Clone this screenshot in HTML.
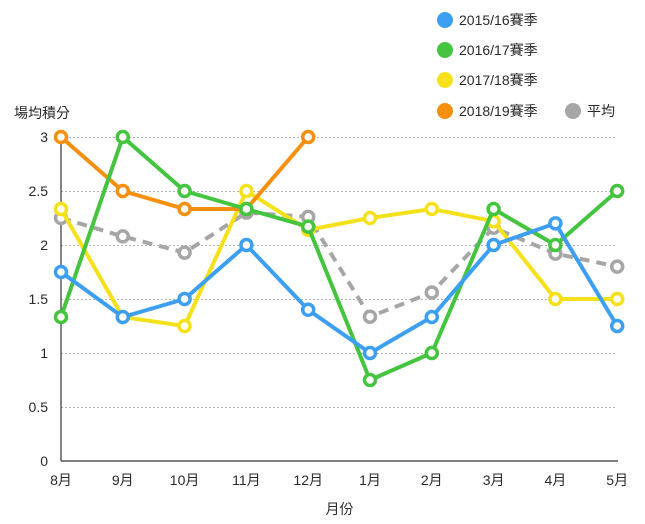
<!DOCTYPE html>
<html><head><meta charset="utf-8"><style>
html,body{margin:0;padding:0;background:#fff;}
svg{display:block;}
text{font-family:"Liberation Sans","Noto Sans CJK TC",sans-serif;fill:#2a2a2a;}
</style></head><body>
<svg width="645" height="524" viewBox="0 0 645 524" xmlns="http://www.w3.org/2000/svg">
<!-- gridlines -->
<g stroke="#b0b0b0" stroke-width="1" stroke-dasharray="2 2">
<line x1="61" y1="137.5" x2="617" y2="137.5"/>
<line x1="61" y1="191.5" x2="617" y2="191.5"/>
<line x1="61" y1="245.5" x2="617" y2="245.5"/>
<line x1="61" y1="299.5" x2="617" y2="299.5"/>
<line x1="61" y1="353.5" x2="617" y2="353.5"/>
<line x1="61" y1="407.5" x2="617" y2="407.5"/>
</g>
<!-- axes -->
<line x1="61" y1="137" x2="61" y2="461" stroke="#333" stroke-width="1.2"/>
<line x1="61" y1="461" x2="618" y2="461" stroke="#333" stroke-width="1.2"/>
<!-- y tick labels -->
<g font-size="14" text-anchor="end">
<text x="48" y="142">3</text>
<text x="48" y="196">2.5</text>
<text x="48" y="250">2</text>
<text x="48" y="304">1.5</text>
<text x="48" y="358">1</text>
<text x="48" y="412">0.5</text>
<text x="48" y="466">0</text>
</g>
<text x="14" y="118" font-size="14">場均積分</text>
<!-- x tick labels -->
<g font-size="14" text-anchor="middle">
<text x="61" y="485">8月</text>
<text x="122.8" y="485">9月</text>
<text x="184.6" y="485">10月</text>
<text x="246.4" y="485">11月</text>
<text x="308.2" y="485">12月</text>
<text x="370" y="485">1月</text>
<text x="431.8" y="485">2月</text>
<text x="493.6" y="485">3月</text>
<text x="555.4" y="485">4月</text>
<text x="617.2" y="485">5月</text>
</g>
<text x="339.5" y="514" font-size="14" text-anchor="middle">月份</text>

<!-- gray average -->
<polyline fill="none" stroke="#a6a6a6" stroke-width="4" stroke-dasharray="10 7" points="61,218 122.8,236.4 184.6,252.6 246.4,212.6 308.2,216.9 370,316.7 431.8,292.5 493.6,227.7 555.4,253.6 617.2,266.6"/>
<g fill="#fff" stroke="#a6a6a6" stroke-width="3.5">
<circle cx="61" cy="218" r="5.5"/><circle cx="122.8" cy="236.4" r="5.5"/><circle cx="184.6" cy="252.6" r="5.5"/><circle cx="246.4" cy="212.6" r="5.5"/><circle cx="308.2" cy="216.9" r="5.5"/><circle cx="370" cy="316.7" r="5.5"/><circle cx="431.8" cy="292.5" r="5.5"/><circle cx="493.6" cy="227.7" r="5.5"/><circle cx="555.4" cy="253.6" r="5.5"/><circle cx="617.2" cy="266.6" r="5.5"/>
</g>

<!-- yellow 2017/18 -->
<polyline fill="none" stroke="#f5e11b" stroke-width="4" stroke-linejoin="round" points="61,209 122.8,317 184.6,326 246.4,191 308.2,229.9 370,218 431.8,209 493.6,221.2 555.4,299 617.2,299"/>
<g fill="#fff" stroke="#f5e11b" stroke-width="3.5">
<circle cx="61" cy="209" r="5.5"/><circle cx="122.8" cy="317" r="5.5"/><circle cx="184.6" cy="326" r="5.5"/><circle cx="246.4" cy="191" r="5.5"/><circle cx="308.2" cy="229.9" r="5.5"/><circle cx="370" cy="218" r="5.5"/><circle cx="431.8" cy="209" r="5.5"/><circle cx="493.6" cy="221.2" r="5.5"/><circle cx="555.4" cy="299" r="5.5"/><circle cx="617.2" cy="299" r="5.5"/>
</g>

<!-- orange 2018/19 -->
<polyline fill="none" stroke="#f5900f" stroke-width="4" stroke-linejoin="round" points="61,137 122.8,191 184.6,209 246.4,209 308.2,137"/>
<g fill="#fff" stroke="#f5900f" stroke-width="3.5">
<circle cx="61" cy="137" r="5.5"/><circle cx="122.8" cy="191" r="5.5"/><circle cx="184.6" cy="209" r="5.5"/><circle cx="246.4" cy="209" r="5.5"/><circle cx="308.2" cy="137" r="5.5"/>
</g>

<!-- green 2016/17 -->
<polyline fill="none" stroke="#44c43f" stroke-width="4" stroke-linejoin="round" points="61,317 122.8,137 184.6,191 246.4,209 308.2,226.6 370,380 431.8,353 493.6,209 555.4,245 617.2,191"/>
<g fill="#fff" stroke="#44c43f" stroke-width="3.5">
<circle cx="61" cy="317" r="5.5"/><circle cx="122.8" cy="137" r="5.5"/><circle cx="184.6" cy="191" r="5.5"/><circle cx="246.4" cy="209" r="5.5"/><circle cx="308.2" cy="226.6" r="5.5"/><circle cx="370" cy="380" r="5.5"/><circle cx="431.8" cy="353" r="5.5"/><circle cx="493.6" cy="209" r="5.5"/><circle cx="555.4" cy="245" r="5.5"/><circle cx="617.2" cy="191" r="5.5"/>
</g>

<!-- blue 2015/16 -->
<polyline fill="none" stroke="#3d9ff2" stroke-width="4" stroke-linejoin="round" points="61,272 122.8,317 184.6,299 246.4,245 308.2,309.8 370,353 431.8,317 493.6,245 555.4,223.4 617.2,326"/>
<g fill="#fff" stroke="#3d9ff2" stroke-width="3.5">
<circle cx="61" cy="272" r="5.5"/><circle cx="122.8" cy="317" r="5.5"/><circle cx="184.6" cy="299" r="5.5"/><circle cx="246.4" cy="245" r="5.5"/><circle cx="308.2" cy="309.8" r="5.5"/><circle cx="370" cy="353" r="5.5"/><circle cx="431.8" cy="317" r="5.5"/><circle cx="493.6" cy="245" r="5.5"/><circle cx="555.4" cy="223.4" r="5.5"/><circle cx="617.2" cy="326" r="5.5"/>
</g>

<!-- legend -->
<circle cx="445" cy="20" r="8" fill="#3d9ff2"/>
<circle cx="445" cy="50" r="8" fill="#44c43f"/>
<circle cx="445" cy="80" r="8" fill="#f5e11b"/>
<circle cx="445" cy="111" r="8" fill="#f5900f"/>
<circle cx="573" cy="111" r="8" fill="#a6a6a6"/>
<g font-size="14">
<text x="459" y="25">2015/16賽季</text>
<text x="459" y="55">2016/17賽季</text>
<text x="459" y="85">2017/18賽季</text>
<text x="459" y="116">2018/19賽季</text>
<text x="587" y="116">平均</text>
</g>
</svg>
</body></html>
